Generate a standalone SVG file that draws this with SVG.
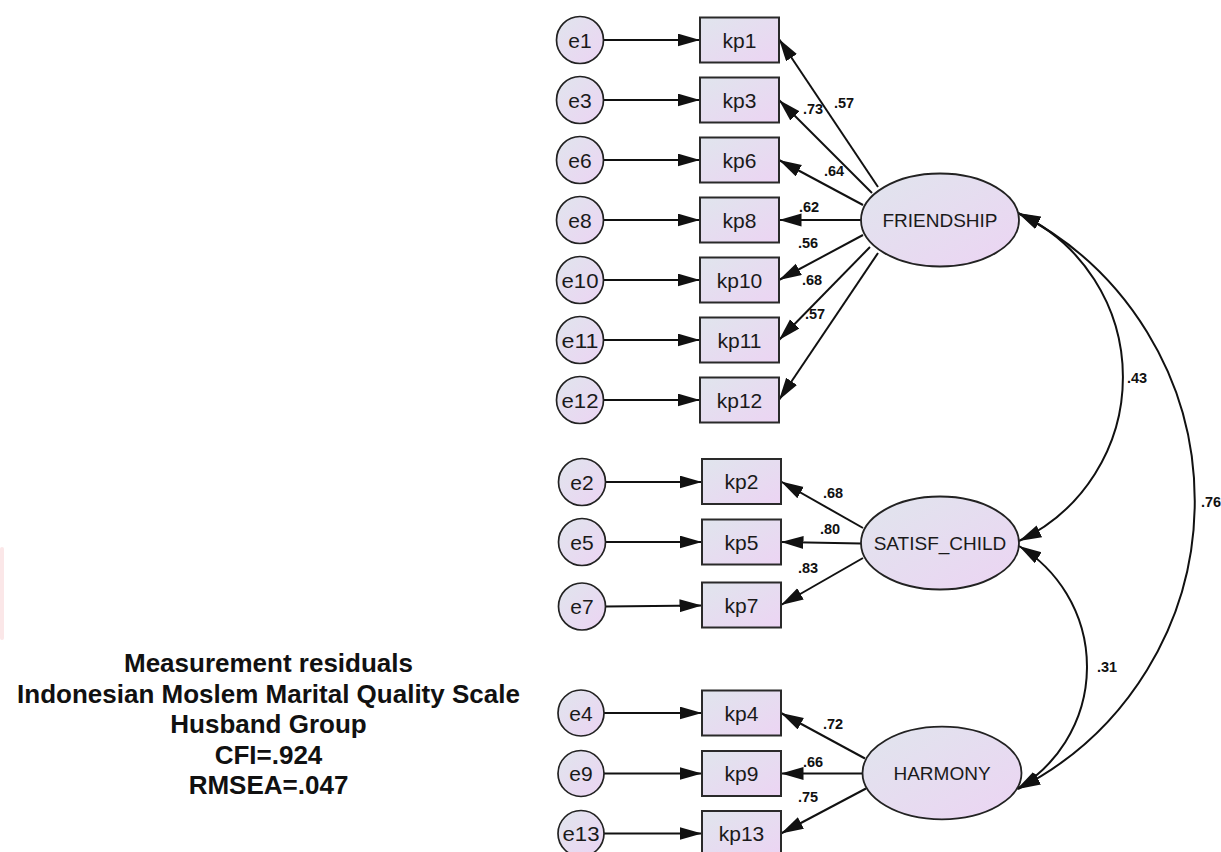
<svg xmlns="http://www.w3.org/2000/svg" width="1221" height="852" viewBox="0 0 1221 852">
<style>
.box{fill:url(#g);stroke:#2a2a2a;stroke-width:2}
.err{fill:url(#g);stroke:#222;stroke-width:1.7}
.lat{fill:url(#g);stroke:#222;stroke-width:1.8}
.ln{fill:none;stroke:#111;stroke-width:2;marker-end:url(#ah)}
.cv{fill:none;stroke:#111;stroke-width:2;marker-start:url(#ah);marker-end:url(#ah)}
.t{font-family:"Liberation Sans",Arial,sans-serif;fill:#1a1a1a;text-anchor:middle}
.et{font-size:21px}
.kt{font-size:21px}
.lt{font-size:19px}
.c{font-family:"Liberation Sans",Arial,sans-serif;font-size:14.5px;font-weight:bold;fill:#111;text-anchor:middle}
.ti{font-family:"Liberation Sans",Arial,sans-serif;font-size:26px;font-weight:bold;fill:#111;text-anchor:middle}
</style>
<defs>
<linearGradient id="g" x1="0" y1="0" x2="1" y2="1">
<stop offset="0" stop-color="#e0e5ed"/>
<stop offset="1" stop-color="#ecd4f3"/>
</linearGradient>
<marker id="ah" markerUnits="userSpaceOnUse" markerWidth="24" markerHeight="14" refX="22.5" refY="6.5" orient="auto-start-reverse" viewBox="0 0 24 14">
<path d="M0,0 L22.5,6.5 L0,13 Z" fill="#111"/>
</marker>
</defs>
<rect x="0" y="547" width="4" height="93" rx="2" fill="#fbe7e8"/>
<g id="connectors">
<line class="ln" x1="603.5" y1="40" x2="700" y2="40"/>
<line class="ln" x1="603.5" y1="100" x2="700" y2="100"/>
<line class="ln" x1="603.5" y1="160" x2="700" y2="160"/>
<line class="ln" x1="603.5" y1="220" x2="700" y2="220"/>
<line class="ln" x1="603.5" y1="280" x2="700" y2="280"/>
<line class="ln" x1="603.5" y1="340" x2="700" y2="340"/>
<line class="ln" x1="603.5" y1="400" x2="700" y2="400"/>
<line class="ln" x1="605.5" y1="482" x2="702" y2="482"/>
<line class="ln" x1="605.5" y1="542" x2="702" y2="542"/>
<line class="ln" x1="605.5" y1="606.5" x2="702" y2="605.5"/>
<line class="ln" x1="604" y1="713" x2="702" y2="713"/>
<line class="ln" x1="604" y1="773.5" x2="702" y2="773.5"/>
<line class="ln" x1="604" y1="833.5" x2="702" y2="833.5"/>
<line class="ln" x1="878" y1="187" x2="779" y2="39"/>
<line class="ln" x1="872" y1="193" x2="779" y2="100"/>
<line class="ln" x1="863" y1="205" x2="779" y2="160"/>
<line class="ln" x1="861" y1="220" x2="779" y2="220"/>
<line class="ln" x1="863" y1="235" x2="779" y2="280"/>
<line class="ln" x1="870" y1="247" x2="779" y2="340"/>
<line class="ln" x1="878" y1="253" x2="779" y2="400"/>
<line class="ln" x1="863" y1="528" x2="781" y2="481.5"/>
<line class="ln" x1="861" y1="543.5" x2="781" y2="542"/>
<line class="ln" x1="863" y1="558" x2="781" y2="605"/>
<line class="ln" x1="865" y1="758.5" x2="781" y2="713"/>
<line class="ln" x1="863" y1="773.5" x2="781" y2="773.5"/>
<line class="ln" x1="866" y1="788.5" x2="781" y2="833.5"/>
<path class="cv" d="M1018,213 A181,181 0 0 1 1019,541"/>
<path class="cv" d="M1018,213 A323,323 0 0 1 1018,789"/>
<path class="cv" d="M1019,546 A141.5,141.5 0 0 1 1017,789"/>
<text class="c" x="844" y="108">.57</text>
<text class="c" x="813" y="114">.73</text>
<text class="c" x="834" y="176">.64</text>
<text class="c" x="809" y="212">.62</text>
<text class="c" x="808" y="248">.56</text>
<text class="c" x="812" y="285">.68</text>
<text class="c" x="815" y="319">.57</text>
<text class="c" x="833" y="498">.68</text>
<text class="c" x="830" y="534">.80</text>
<text class="c" x="808" y="573">.83</text>
<text class="c" x="833" y="729">.72</text>
<text class="c" x="813" y="767">.66</text>
<text class="c" x="808" y="802">.75</text>
<text class="c" x="1137" y="383">.43</text>
<text class="c" x="1211" y="507">.76</text>
<text class="c" x="1107" y="672">.31</text>
</g>
<g id="e1"><circle class="err" cx="580" cy="40" r="23.5"/><text class="t et" x="580" y="47.5">e1</text></g>
<g id="e3"><circle class="err" cx="580" cy="100" r="23.5"/><text class="t et" x="580" y="107.5">e3</text></g>
<g id="e6"><circle class="err" cx="580" cy="160" r="23.5"/><text class="t et" x="580" y="167.5">e6</text></g>
<g id="e8"><circle class="err" cx="580" cy="220" r="23.5"/><text class="t et" x="580" y="227.5">e8</text></g>
<g id="e10"><circle class="err" cx="580" cy="280" r="23.5"/><text class="t et" x="580" y="287.5" textLength="37" lengthAdjust="spacingAndGlyphs">e10</text></g>
<g id="e11"><circle class="err" cx="580" cy="340" r="23.5"/><text class="t et" x="580" y="347.5" textLength="37" lengthAdjust="spacingAndGlyphs">e11</text></g>
<g id="e12"><circle class="err" cx="580" cy="400" r="23.5"/><text class="t et" x="580" y="407.5" textLength="37" lengthAdjust="spacingAndGlyphs">e12</text></g>
<g id="e2"><circle class="err" cx="582" cy="482" r="23.5"/><text class="t et" x="582" y="489.5">e2</text></g>
<g id="e5"><circle class="err" cx="582" cy="542" r="23.5"/><text class="t et" x="582" y="549.5">e5</text></g>
<g id="e7"><circle class="err" cx="582" cy="606.5" r="23.5"/><text class="t et" x="582" y="614">e7</text></g>
<g id="e4"><circle class="err" cx="581" cy="713" r="23"/><text class="t et" x="581" y="720.5">e4</text></g>
<g id="e9"><circle class="err" cx="581" cy="773.5" r="23"/><text class="t et" x="581" y="781">e9</text></g>
<g id="e13"><circle class="err" cx="581" cy="833.5" r="23"/><text class="t et" x="581" y="841" textLength="37" lengthAdjust="spacingAndGlyphs">e13</text></g>
<g id="kp1"><rect class="box" x="700" y="17.5" width="79" height="45"/><text class="t kt" x="739.5" y="47.5">kp1</text></g>
<g id="kp3"><rect class="box" x="700" y="77.5" width="79" height="45"/><text class="t kt" x="739.5" y="107.5">kp3</text></g>
<g id="kp6"><rect class="box" x="700" y="137.5" width="79" height="45"/><text class="t kt" x="739.5" y="167.5">kp6</text></g>
<g id="kp8"><rect class="box" x="700" y="197.5" width="79" height="45"/><text class="t kt" x="739.5" y="227.5">kp8</text></g>
<g id="kp10"><rect class="box" x="700" y="257.5" width="79" height="45"/><text class="t kt" x="739.5" y="287.5">kp10</text></g>
<g id="kp11"><rect class="box" x="700" y="317.5" width="79" height="45"/><text class="t kt" x="739.5" y="347.5">kp11</text></g>
<g id="kp12"><rect class="box" x="700" y="377.5" width="79" height="45"/><text class="t kt" x="739.5" y="407.5">kp12</text></g>
<g id="kp2"><rect class="box" x="702" y="459" width="79" height="45"/><text class="t kt" x="741.5" y="489">kp2</text></g>
<g id="kp5"><rect class="box" x="702" y="519.5" width="79" height="45"/><text class="t kt" x="741.5" y="549.5">kp5</text></g>
<g id="kp7"><rect class="box" x="702" y="582.5" width="79" height="45"/><text class="t kt" x="741.5" y="612.5">kp7</text></g>
<g id="kp4"><rect class="box" x="702" y="690.5" width="79" height="45"/><text class="t kt" x="741.5" y="720.5">kp4</text></g>
<g id="kp9"><rect class="box" x="702" y="751" width="79" height="45"/><text class="t kt" x="741.5" y="781">kp9</text></g>
<g id="kp13"><rect class="box" x="702" y="811" width="79" height="45"/><text class="t kt" x="741.5" y="841">kp13</text></g>
<g id="FRIENDSHIP"><ellipse class="lat" cx="940" cy="220" rx="79" ry="46.5"/><text class="t lt" x="940" y="226.8">FRIENDSHIP</text></g>
<g id="SATISF_CHILD"><ellipse class="lat" cx="940" cy="543" rx="79" ry="46.5"/><text class="t lt" x="940" y="549.8">SATISF_CHILD</text></g>
<g id="HARMONY"><ellipse class="lat" cx="942" cy="773" rx="79.5" ry="46.3"/><text class="t lt" x="942" y="779.8">HARMONY</text></g>
<g id="caption">
<text class="ti" x="268.5" y="672">Measurement residuals</text>
<text class="ti" x="268.5" y="702.5">Indonesian Moslem Marital Quality Scale</text>
<text class="ti" x="268.5" y="733">Husband Group</text>
<text class="ti" x="268.5" y="763.5">CFI=.924</text>
<text class="ti" x="268.5" y="794">RMSEA=.047</text>
</g>
</svg>
